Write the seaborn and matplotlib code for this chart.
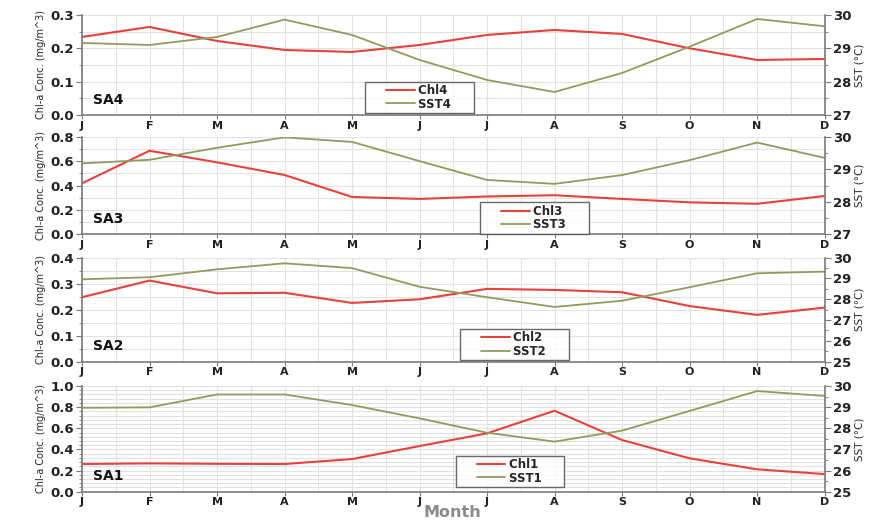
import numpy as np
import pandas as pd
import matplotlib
matplotlib.use("Agg")
import matplotlib.pyplot as plt
import seaborn as sns
from matplotlib.ticker import MultipleLocator, AutoMinorLocator
from matplotlib.lines import Line2D
from matplotlib.legend_handler import HandlerLine2D

months = ["J", "F", "M", "A", "M", "J", "J", "A", "S", "O", "N", "D"]

chl4 = [0.234, 0.264, 0.222, 0.195, 0.189, 0.21, 0.24, 0.255, 0.243, 0.20, 0.165, 0.168]
sst4 = [29.16, 29.10, 29.34, 29.86, 29.40, 28.65, 28.05, 27.69, 28.26, 29.05, 29.88, 29.66]

chl3 = [0.418, 0.685, 0.59, 0.486, 0.306, 0.29, 0.31, 0.32, 0.29, 0.262, 0.25, 0.314]
sst3 = [29.18, 29.29, 29.66, 29.98, 29.84, 29.25, 28.67, 28.55, 28.82, 29.28, 29.82, 29.35]

chl2 = [0.248, 0.312, 0.263, 0.265, 0.226, 0.24, 0.28, 0.276, 0.267, 0.214, 0.18, 0.208]
sst2 = [28.96, 29.06, 29.44, 29.73, 29.50, 28.60, 28.10, 27.63, 27.93, 28.58, 29.25, 29.33]

chl1 = [0.262, 0.268, 0.264, 0.262, 0.309, 0.432, 0.552, 0.766, 0.489, 0.316, 0.212, 0.167]
sst1 = [28.97, 28.99, 29.60, 29.60, 29.10, 28.47, 27.79, 27.37, 27.89, 28.82, 29.76, 29.53]

panels = [
    dict(name="SA4", chl=chl4, sst=sst4, chl_lim=(0, 0.3), chl_step=0.1, chl_minor=2,
         sst_lim=(27, 30), sst_step=1, sst_minor=2, leg=(0.381, 0.02), idx="4",
         rect=[0.0928, 0.7793, 0.840, 0.192]),
    dict(name="SA3", chl=chl3, sst=sst3, chl_lim=(0, 0.8), chl_step=0.2, chl_minor=2,
         sst_lim=(27, 30), sst_step=1, sst_minor=2, leg=(0.536, 0.005), idx="3",
         rect=[0.0928, 0.5503, 0.840, 0.1873]),
    dict(name="SA2", chl=chl2, sst=sst2, chl_lim=(0, 0.4), chl_step=0.1, chl_minor=2,
         sst_lim=(25, 30), sst_step=1, sst_minor=2, leg=(0.509, 0.016), idx="2",
         rect=[0.0928, 0.3058, 0.840, 0.1996]),
    dict(name="SA1", chl=chl1, sst=sst1, chl_lim=(0, 1.0), chl_step=0.2, chl_minor=5,
         sst_lim=(25, 30), sst_step=1, sst_minor=2, leg=(0.503, 0.045), idx="1",
         rect=[0.0928, 0.0562, 0.840, 0.2029]),
]

sns.set_style("white")
plt.rcParams['font.family'] = ['DejaVu Sans']

RED = "#e8413c"
GREEN = "#8f9c5c"
GRID = "#e2e2e2"
SPINE = "#7a7a7a"

fig = plt.figure(figsize=(8.84, 5.21), dpi=100)
x = np.arange(12)

for p in panels:
    ax = fig.add_axes(p["rect"])
    ax2 = ax.twinx()
    df = pd.DataFrame({"x": x, "chl": p["chl"], "sst": p["sst"]})
    sns.lineplot(data=df, x="x", y="chl", ax=ax, color=RED, lw=1.5,
                 label="Chl" + p["idx"], legend=False)
    sns.lineplot(data=df, x="x", y="sst", ax=ax2, color=GREEN, lw=1.3,
                 label="SST" + p["idx"], legend=False)

    ax.set_xlim(0, 11)
    ax.set_ylim(*p["chl_lim"])
    ax2.set_ylim(*p["sst_lim"])
    ax.yaxis.set_major_locator(MultipleLocator(p["chl_step"]))
    ax.yaxis.set_minor_locator(AutoMinorLocator(p["chl_minor"]))
    ax2.yaxis.set_major_locator(MultipleLocator(p["sst_step"]))
    ax2.yaxis.set_minor_locator(AutoMinorLocator(p["sst_minor"]))
    ax.set_xticks(x)
    ax.set_xticklabels(months)
    ax.xaxis.set_minor_locator(MultipleLocator(0.5))
    ax.set_yticklabels(["{:.1f}".format(v) for v in ax.get_yticks()])

    ax.grid(True, which="both", color=GRID, lw=0.8)
    ax.set_axisbelow(True)
    ax.spines["top"].set_visible(False)
    ax2.spines["top"].set_visible(False)
    ax2.spines["left"].set_visible(False)
    ax2.spines["bottom"].set_visible(False)
    for s in ["left", "bottom"]:
        ax.spines[s].set_color(SPINE)
        ax.spines[s].set_linewidth(1.2)
    ax.spines["right"].set_visible(False)
    ax2.spines["right"].set_color(SPINE)
    ax2.spines["right"].set_linewidth(1.2)

    ax.tick_params(axis="y", which="major", direction="out", length=4, color=SPINE,
                   labelsize=9.5, pad=2, left=True)
    ax.tick_params(axis="y", which="minor", direction="out", length=2.5, color=SPINE, left=True)
    ax.tick_params(axis="x", which="major", direction="out", length=3, color=SPINE,
                   labelsize=8, pad=1, bottom=True)
    ax.tick_params(axis="x", which="minor", length=0)
    ax2.tick_params(axis="y", which="major", direction="out", length=4, color=SPINE,
                    labelsize=9.5, pad=2, right=True)
    ax2.tick_params(axis="y", which="minor", direction="out", length=2.5, color=SPINE, right=True)
    for lbl in ax.get_yticklabels() + ax.get_xticklabels() + ax2.get_yticklabels():
        lbl.set_fontweight("bold")
        lbl.set_color("#222222")

    ax.set_xlabel("")
    ax.set_ylabel("Chl-a Conc. (mg/m^3)", fontsize=7, labelpad=3)
    ax2.set_ylabel("SST (\u00b0C)", fontsize=7.5, labelpad=2)

    ax.text(0.015, 0.08, p["name"], transform=ax.transAxes, fontsize=10,
            fontweight="bold", ha="left", va="bottom", color="#111111")

    h1, l1 = ax.get_legend_handles_labels()
    h2, l2 = ax2.get_legend_handles_labels()
    labels = [s + "     " for s in (l1 + l2)]
    leg = ax2.legend(h1 + h2, labels, loc="lower left", bbox_to_anchor=p["leg"],
                     borderaxespad=0.0,
                     frameon=True, fancybox=False, handlelength=4.0,
                     borderpad=0.2, labelspacing=0.05, handletextpad=0.3,
                     prop={"weight": "bold", "size": 8.5},
                     handler_map={Line2D: HandlerLine2D(xpad=1.6)})
    leg.get_frame().set_edgecolor("#444444")
    leg.get_frame().set_linewidth(1.0)
    leg.set_zorder(10)

fig.text(0.512, 0.002, "Month", ha="center", va="bottom", fontsize=11.5,
         fontweight="bold", color="#8a8a8a")

fig.savefig("out.png", dpi=100)
